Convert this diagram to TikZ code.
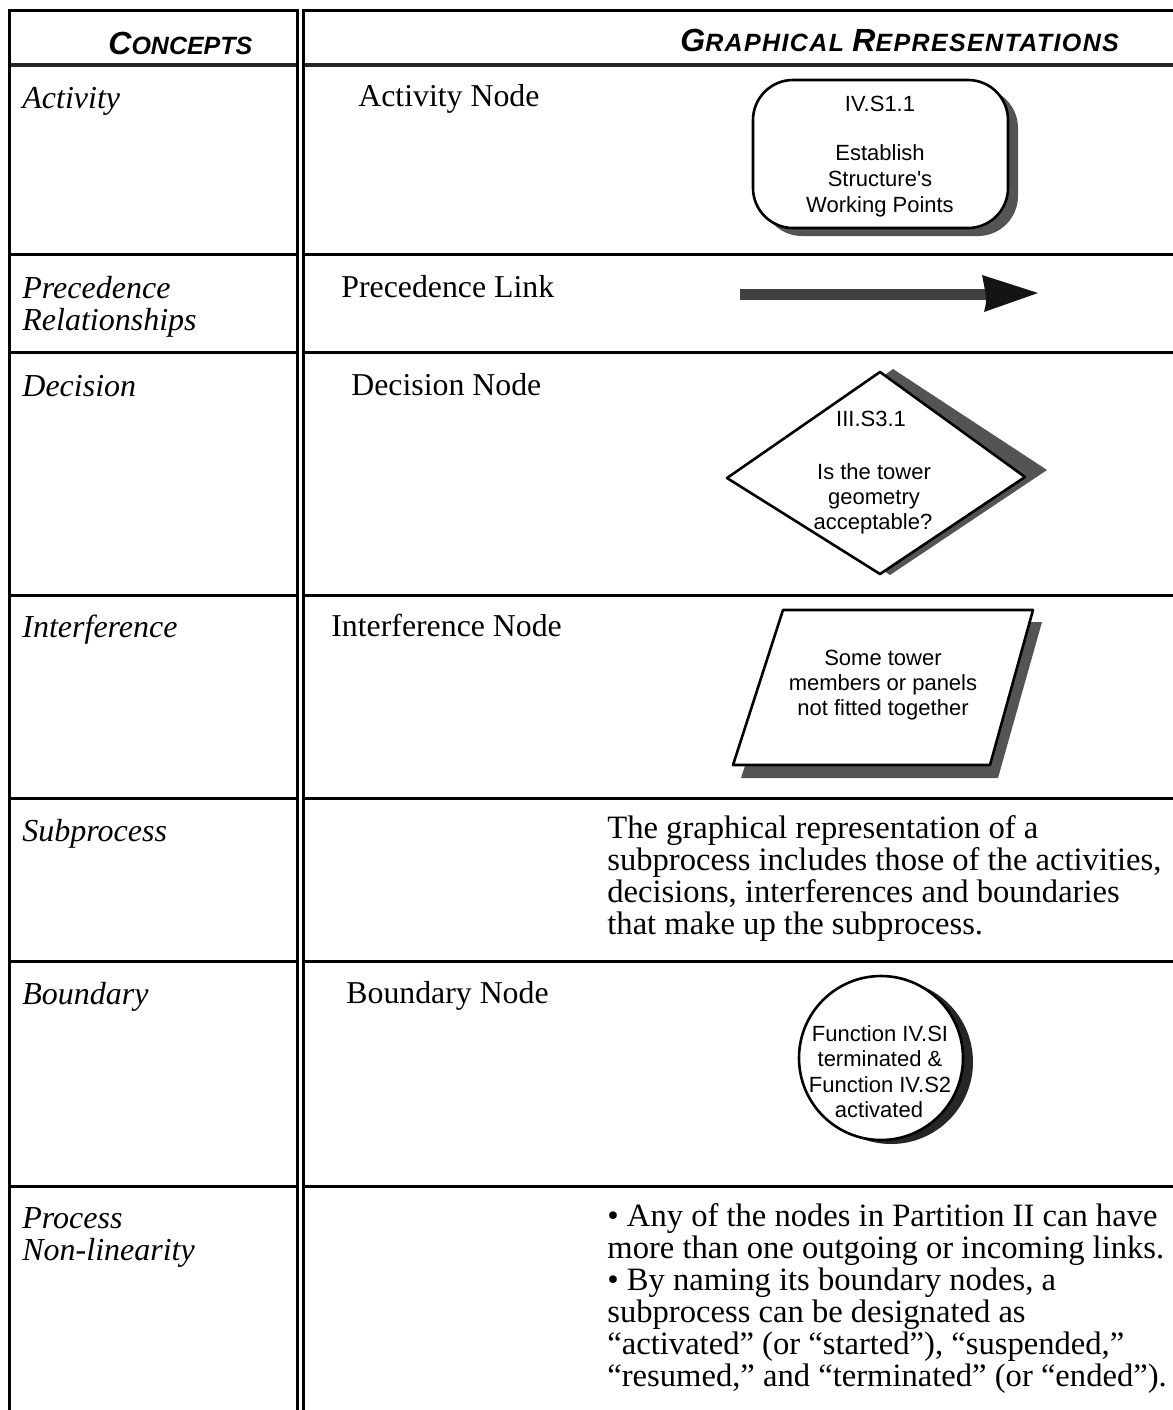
\documentclass[tikz,border=0pt]{standalone}
\usepackage{fontspec}
\setmainfont{Liberation Serif}
\setsansfont{Liberation Sans}

\definecolor{shadowgray}{gray}{0.33}
\definecolor{shaftgray}{gray}{0.25}

\begin{document}
\begin{tikzpicture}[x=0.5pt,y=-0.5pt,
  rule/.style={line width=1.5pt},
  headrule/.style={line width=2pt, black!85},
  concept/.style={font=\fontsize{16}{16}\selectfont\itshape, anchor=base west, inner sep=0},
  kind/.style={font=\fontsize{15.9}{16}\selectfont, anchor=base west, inner sep=0},
  para/.style={font=\fontsize{16.3}{16}\selectfont, anchor=base west, inner sep=0},
  shapetext/.style={font=\sffamily\fontsize{11}{12}\selectfont, anchor=base, inner sep=0},
  headtext/.style={font=\sffamily\bfseries\itshape, anchor=base west, inner sep=0},
  outline/.style={draw=black, line width=1.3pt, fill=white, line join=round},
  shadowfill/.style={fill=shadowgray, draw=none}]

\useasboundingbox (0,0) rectangle (1173,1410);
\fill[white] (0,0) rectangle (1173,1410);

% ---- table rules ----
\draw[rule] (9,10) -- (297,10);
\draw[rule] (303,10) -- (1173,10);
\draw[headrule] (9,65) -- (297,65);
\draw[headrule] (303,65) -- (1173,65);
\foreach \yy in {254,352,595,798,961,1186}{
  \draw[rule] (9,\yy) -- (297,\yy);
  \draw[rule] (303,\yy) -- (1173,\yy);
}
\draw[rule] (9,9.25) -- (9,1410);
\draw[rule] (297,9.25) -- (297,1410);
\draw[rule] (303,9.25) -- (303,1410);

% ---- column headings ----
\node[headtext] (hconcepts) at (108,54)
  {\fontsize{16}{16}\selectfont C\fontsize{12.5}{16}\selectfont ONCEPTS};
\node[headtext] (hgraph) at (680,51)
  {\addfontfeature{LetterSpace=5.5}\fontsize{16}{16}\selectfont G\fontsize{12.5}{16}\selectfont RAPHICAL
   \fontsize{16}{16}\selectfont R\fontsize{12.5}{16}\selectfont EPRESENTATIONS};

% ---- concepts ----
\node[concept] (cact)  at (22,108)  {Activity};
\node[concept] (cprec) at (22,298)  {Precedence};
\node[concept] (crel)  at (22,330)  {Relationships};
\node[concept] (cdec)  at (22,396)  {Decision};
\node[concept] (cint)  at (22,637)  {Interference};
\node[concept] (csub)  at (22,841)  {Subprocess};
\node[concept] (cbnd)  at (22,1004) {Boundary};
\node[concept] (cproc) at (22,1228) {Process};
\node[concept] (cnon)  at (22,1260) {Non-linearity};

% ---- representation names ----
\node[kind] (kact)  at (358,106)  {Activity Node};
\node[kind] (kprec) at (341,297)  {Precedence Link};
\node[kind] (kdec)  at (351,395)  {Decision Node};
\node[kind] (kint)  at (331,636)  {Interference Node};
\node[kind] (kbnd)  at (346,1003) {Boundary Node};

% ---- activity node ----
\fill[shadowgray, rounded corners=20] (762,88) rectangle (1018,236);
\draw[outline, rounded corners=20] (753,80) rectangle (1008,228);
\node[shapetext] (act1) at (880,111) {IV.S1.1};
\node[shapetext] (act2) at (880,160) {Establish};
\node[shapetext] (act3) at (880,186) {Structure\textquotesingle s};
\node[shapetext] (act4) at (880,212) {Working Points};

% ---- precedence link ----
\fill[shaftgray] (740,289) rectangle (986,300);
\fill[black!92] (982,275) -- (1038,293) -- (984,312) .. controls (987,300) .. (982,275) -- cycle;

% ---- decision node ----
\fill[shadowfill] (893,369) -- (1047,470) -- (890,575) -- (745,476) -- cycle;
\draw[outline] (880,372) -- (1025,477) -- (880,574) -- (727,478) -- cycle;
\node[shapetext] (dec1) at (871,426) {III.S3.1};
\node[shapetext] (dec2) at (874,479) {Is the tower};
\node[shapetext] (dec3) at (874,504) {geometry};
\node[shapetext] (dec4) at (873,529) {acceptable?};

% ---- interference node ----
\fill[shadowfill] (792,622) -- (1042,622) -- (998,778) -- (741,778) -- cycle;
\draw[outline] (783,610) -- (1033,610) -- (990,765) -- (733,765) -- cycle;
\node[shapetext] (int1) at (883,665) {Some tower};
\node[shapetext] (int2) at (883,690) {members or panels};
\node[shapetext] (int3) at (883,715) {not fitted together};

% ---- boundary node ----
\fill[black!85] (891,1062) circle[radius=82];
\draw[outline] (881,1058) circle[radius=82];
\node[shapetext] (bnd1) at (880,1041) {Function IV.SI};
\node[shapetext] (bnd2) at (880,1066) {terminated \&};
\node[shapetext] (bnd3) at (880,1092) {Function IV.S2};
\node[shapetext] (bnd4) at (879,1117) {activated};

% ---- subprocess description ----
\node[para] (sub1) at (607,838) {The graphical representation of a};
\node[para] (sub2) at (607,870) {subprocess includes those of the activities,};
\node[para] (sub3) at (607,902) {decisions, interferences and boundaries};
\node[para] (sub4) at (607,934) {that make up the subprocess.};

% ---- process non-linearity description ----
\node[para] (nl1) at (607,1226) {• Any of the nodes in Partition II can have};
\node[para] (nl2) at (607,1258) {more than one outgoing or incoming links.};
\node[para] (nl3) at (607,1290) {• By naming its boundary nodes, a};
\node[para] (nl4) at (607,1322) {subprocess can be designated as};
\node[para] (nl5) at (607,1354) {“activated” (or “started”), “suspended,”};
\node[para] (nl6) at (607,1386) {“resumed,” and “terminated” (or “ended”).};

\end{tikzpicture}
\end{document}
